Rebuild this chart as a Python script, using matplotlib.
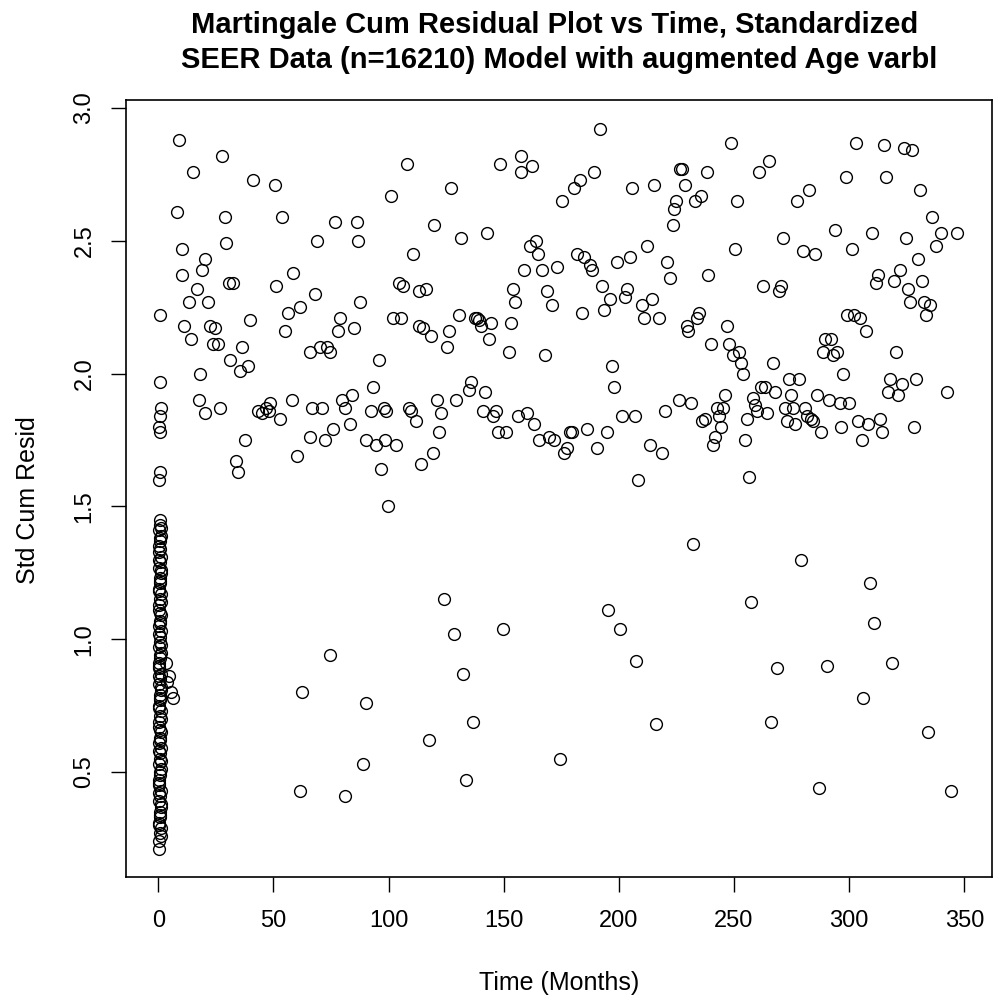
import numpy as np
import matplotlib.pyplot as plt

# points near time zero (dense column)
x_early = [0.2, 0.5, 0.8, 1.0, 0.3, 0.6, 0.9, 1.2, 0.4, 0.7, 1.1, 0.2, 0.5, 0.8, 1.3, 0.3,
           0.6, 0.9, 1.0, 0.4, 0.7, 1.2, 0.2, 0.5, 0.8, 1.1, 0.3, 0.6, 0.9, 1.4, 0.4, 0.7,
           1.0, 0.2, 0.5, 0.8, 1.2, 0.3, 0.6, 0.9, 1.1, 0.4, 0.7, 1.3, 0.2, 0.5, 0.8, 1.0,
           0.3, 0.6, 0.9, 1.2, 0.4, 0.7, 1.1, 0.2, 0.5, 0.8, 1.4, 0.3, 0.6, 0.9, 1.0, 0.4,
           0.7, 1.2, 0.2, 0.5, 0.8, 1.1, 0.3, 0.6, 0.9, 1.3, 0.4, 0.7, 1.0, 0.2, 0.5, 0.8,
           1.2, 0.3, 0.6, 0.9, 1.1, 0.4, 0.7, 1.0, 0.5, 0.8, 0.6, 1.0, 0.4, 0.9, 0.7, 0.5,
           0.8, 1.1, 0.6, 0.9, 3.5, 4.5, 5.5, 6.5, 4.0]
y_early = [0.21, 0.24, 0.27, 0.29, 0.31, 0.33, 0.35, 0.37, 0.39, 0.41, 0.43, 0.45, 0.47, 0.49,
           0.51, 0.53, 0.55, 0.57, 0.59, 0.61, 0.63, 0.65, 0.67, 0.69, 0.71, 0.73, 0.75, 0.77,
           0.79, 0.81, 0.83, 0.85, 0.87, 0.89, 0.91, 0.93, 0.95, 0.97, 0.99, 1.01, 1.03, 1.05,
           1.07, 1.09, 1.11, 1.13, 1.15, 1.17, 1.19, 1.21, 1.23, 1.25, 1.27, 1.29, 1.31, 1.33,
           1.35, 1.37, 1.39, 1.41, 1.43, 1.45, 0.26, 0.30, 0.34, 0.38, 0.42, 0.46, 0.50, 0.54,
           0.58, 0.62, 0.66, 0.70, 0.74, 0.78, 0.82, 0.86, 0.90, 0.94, 0.98, 1.02, 1.06, 1.10,
           1.14, 1.18, 1.22, 1.26, 1.30, 1.34, 1.38, 1.42, 1.60, 1.63, 1.78, 1.80, 1.84, 1.87,
           1.97, 2.22, 0.91, 0.86, 0.80, 0.78, 0.84]

# later points
x_late = [9.2, 8.3, 10.5, 10.5, 11.4, 13.5, 14.4, 15.3, 17.0, 17.9, 18.3, 19.2, 20.5, 20.1,
          21.4, 22.3, 23.6, 24.5, 25.8, 26.6, 27.5, 28.8, 29.3, 30.6, 32.3, 31.0, 33.6, 34.5,
          35.4, 36.3, 37.6, 38.9, 39.8, 41.1, 43.2, 45.0, 46.7, 48.1, 48.5, 50.7, 51.1, 52.9,
          53.7, 55.0, 56.4, 58.1, 58.5, 60.3, 61.6, 62.5, 61.6, 66.0, 66.0, 66.8, 68.2, 69.0,
          70.3, 71.2, 72.5, 73.4, 74.7, 74.7, 76.0, 76.9, 78.2, 79.1, 79.9, 81.3, 81.3, 83.4,
          84.3, 85.2, 86.1, 86.9, 87.8, 88.7, 90.0, 90.4, 92.2, 93.1, 94.4, 95.7, 96.5, 97.9,
          98.3, 98.7, 99.6, 100.9, 101.8, 103.1, 104.4, 105.3, 106.2, 107.9, 109.0, 109.7,
          110.5, 111.8, 113.1, 113.1, 114.0, 114.9, 116.2, 117.5, 118.4, 119.3, 119.7, 121.0,
          121.9, 122.8, 124.1, 125.4, 126.3, 127.1, 128.4, 129.3, 130.6, 131.5, 132.4, 133.7,
          135.0, 135.9, 136.7, 137.6, 138.5, 139.4, 140.2, 141.1, 142.0, 142.9, 143.7, 144.6,
          145.5, 146.8, 147.7, 148.5, 149.8, 151.2, 152.5, 153.3, 154.2, 155.1, 156.4, 157.7,
          157.7, 158.6, 159.9, 161.2, 162.1, 163.0, 163.8, 164.7, 165.5, 166.4, 167.8, 168.6,
          169.5, 170.8, 171.7, 173.0, 174.3, 175.2, 176.1, 177.4, 178.7, 179.6, 180.4, 181.7,
          183.0, 183.9, 184.8, 186.1, 187.4, 188.3, 189.2, 190.5, 191.8, 192.7, 193.5, 194.8,
          195.3, 196.2, 197.0, 197.9, 199.2, 200.5, 201.4, 202.7, 203.6, 204.9, 205.8, 207.1,
          207.5, 208.4, 210.1, 211.0, 212.3, 213.6, 214.5, 215.4, 216.2, 217.6, 218.9, 220.2,
          221.1, 222.4, 223.3, 224.1, 225.0, 225.9, 226.7, 227.6, 228.5, 229.4, 230.2, 231.1,
          232.0, 232.9, 233.7, 234.6, 235.5, 236.3, 237.2, 238.1, 238.9, 239.8, 240.7, 241.6,
          242.5, 243.3, 244.2, 245.1, 245.9, 246.8, 247.7, 248.6, 249.4, 250.3, 251.2, 252.1,
          252.9, 253.8, 254.7, 255.6, 256.4, 257.3, 258.2, 259.1, 259.9, 260.8, 261.7, 262.6,
          263.4, 264.3, 265.2, 266.1, 266.9, 267.8, 268.7, 269.6, 270.4, 271.3, 272.2, 273.1,
          273.9, 274.8, 275.7, 276.6, 277.4, 278.3, 279.2, 280.0, 280.9, 281.8, 282.7, 283.5,
          284.4, 285.3, 286.1, 287.0, 287.9, 288.8, 289.6, 290.5, 291.4, 292.3, 293.1, 294.0,
          294.9, 295.8, 296.6, 297.5, 298.4, 299.2, 300.1, 301.0, 301.9, 302.8, 303.6, 304.5,
          305.4, 306.2, 307.1, 308.0, 308.9, 309.7, 310.6, 311.5, 312.3, 313.2, 314.1, 315.0,
          315.8, 316.7, 317.6, 318.5, 319.3, 320.2, 321.1, 322.0, 322.8, 323.7, 324.6, 325.4,
          326.3, 327.2, 328.1, 328.9, 329.8, 330.7, 331.6, 332.4, 333.3, 334.2, 335.1, 335.9,
          337.5, 340.0, 342.5, 344.0, 347.0]
y_late = [2.88, 2.61, 2.47, 2.37, 2.18, 2.27, 2.13, 2.76, 2.32, 1.90, 2.00, 2.39, 2.43, 1.85,
          2.27, 2.18, 2.11, 2.17, 2.11, 1.87, 2.82, 2.59, 2.49, 2.34, 2.34, 2.05, 1.67, 1.63,
          2.01, 2.10, 1.75, 2.03, 2.20, 2.73, 1.86, 1.85, 1.87, 1.86, 1.89, 2.71, 2.33, 1.83,
          2.59, 2.16, 2.23, 1.90, 2.38, 1.69, 2.25, 0.80, 0.43, 1.76, 2.08, 1.87, 2.30, 2.50,
          2.10, 1.87, 1.75, 2.10, 2.08, 0.94, 1.79, 2.57, 2.16, 2.21, 1.90, 1.87, 0.41, 1.81,
          1.92, 2.17, 2.57, 2.50, 2.27, 0.53, 0.76, 1.75, 1.86, 1.95, 1.73, 2.05, 1.64, 1.87,
          1.75, 1.86, 1.50, 2.67, 2.21, 1.73, 2.34, 2.21, 2.33, 2.79, 1.87, 1.86,
          2.45, 1.82, 2.18, 2.31, 1.66, 2.17, 2.32, 0.62, 2.14, 1.70, 2.56, 1.90,
          1.78, 1.85, 1.15, 2.10, 2.16, 2.70, 1.02, 1.90, 2.22, 2.51, 0.87, 0.47,
          1.94, 1.97, 0.69, 2.21, 2.21, 2.20, 2.18, 1.86, 1.93, 2.53, 2.13, 2.19,
          1.84, 1.86, 1.78, 2.79, 1.04, 1.78, 2.08, 2.19, 2.32, 2.27, 1.84, 2.76,
          2.82, 2.39, 1.85, 2.48, 2.78, 1.81, 2.50, 2.45, 1.75, 2.39, 2.07, 2.31,
          1.76, 2.26, 1.75, 2.40, 0.55, 2.65, 1.70, 1.72, 1.78, 1.78, 2.70, 2.45,
          2.73, 2.23, 2.44, 1.79, 2.41, 2.39, 2.76, 1.72, 2.92, 2.33, 2.24, 1.78,
          1.11, 2.28, 2.03, 1.95, 2.42, 1.04, 1.84, 2.29, 2.32, 2.44, 2.70, 1.84,
          0.92, 1.60, 2.26, 2.21, 2.48, 1.73, 2.28, 2.71, 0.68, 2.21, 1.70, 1.86,
          2.42, 2.36, 2.56, 2.62, 2.65, 1.90, 2.77, 2.77, 2.71, 2.18, 2.16, 1.89,
          1.36, 2.65, 2.21, 2.23, 2.67, 1.82, 1.83, 2.76, 2.37, 2.11, 1.73, 1.76,
          1.87, 1.84, 1.80, 1.87, 1.92, 2.18, 2.11, 2.87, 2.07, 2.47, 2.65, 2.08,
          2.04, 2.00, 1.75, 1.83, 1.61, 1.14, 1.91, 1.88, 1.86, 2.76, 1.95, 2.33,
          1.95, 1.85, 2.80, 0.69, 2.04, 1.93, 0.89, 2.31, 2.33, 2.51, 1.87, 1.82,
          1.98, 1.92, 1.87, 1.81, 2.65, 1.98, 1.30, 2.46, 1.87, 1.84, 2.69, 1.83,
          1.82, 2.45, 1.92, 0.44, 1.78, 2.08, 2.13, 0.90, 1.90, 2.13, 2.07, 2.54,
          2.08, 1.89, 1.80, 2.00, 2.74, 2.22, 1.89, 2.47, 2.22, 2.87, 1.82, 2.21,
          1.75, 0.78, 2.16, 1.81, 1.21, 2.53, 1.06, 2.34, 2.37, 1.83, 1.78, 2.86,
          2.74, 1.93, 1.98, 0.91, 2.35, 2.08, 1.92, 2.39, 1.96, 2.85, 2.51, 2.32,
          2.27, 2.84, 1.80, 1.98, 2.43, 2.69, 2.35, 2.27, 2.22, 0.65, 2.26, 2.59,
          2.48, 2.53, 1.93, 0.43, 2.53]

x = x_early + x_late
y = y_early + y_late

plt.rcParams['font.family'] = ['Liberation Sans', 'DejaVu Sans']

fig = plt.figure(figsize=(9.96, 10), dpi=100)
ax = fig.add_axes([0.1265, 0.123, 0.8695, 0.777])
ax.plot(x, y, 'o', mfc='none', mec='black', ms=8.5, mew=1.0)
ax.set_xlim(-14, 362)
ax.set_ylim(0.105, 3.03)
ax.set_xticks(np.arange(0, 351, 50))
ax.set_xticklabels([str(v) for v in range(0, 351, 50)], fontsize=17)
ax.set_yticks([0.5, 1.0, 1.5, 2.0, 2.5, 3.0])
ax.set_yticklabels(['0.5', '1.0', '1.5', '2.0', '2.5', '3.0'], rotation=90, va='center', fontsize=17)
ax.tick_params(direction='out', length=11, width=1)
ax.tick_params(axis='x', pad=13)
ax.tick_params(axis='y', pad=11)
for s in ax.spines.values():
    s.set_linewidth(1.2)

fig.text(559 / 996, 1 - 983 / 1000, 'Time (Months)', ha='center', va='center', fontsize=18)
fig.text(28 / 996, 0.5, 'Std Cum Resid', ha='center', va='center', rotation=90, fontsize=18)
fig.text(555 / 996, 1 - 25 / 1000, 'Martingale Cum Residual Plot vs Time, Standardized',
         ha='center', va='center', fontsize=21, fontweight='bold')
fig.text(559 / 996, 1 - 60 / 1000, 'SEER Data (n=16210) Model with augmented Age varbl',
         ha='center', va='center', fontsize=21, fontweight='bold')
fig.savefig('out.png')
